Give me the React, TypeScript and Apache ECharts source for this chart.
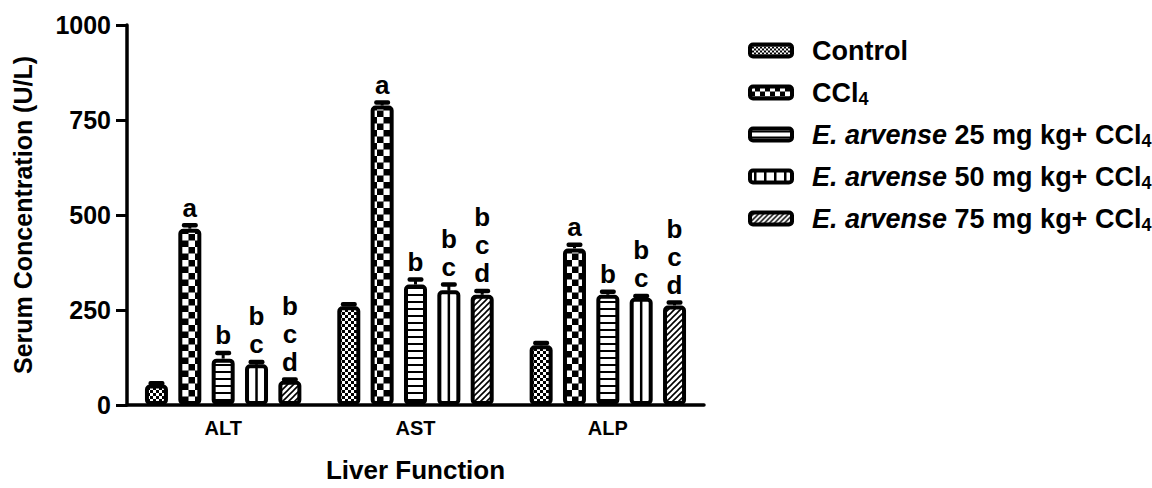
import React, { useEffect, useRef } from "react";
import * as echarts from "echarts";

const categories = ["ALT", "AST", "ALP"];
const seriesNames = ["Control", "CCl4", "E25", "E50", "E75"];

const controlMean = [54, 260, 157];
const controlErr = [5, 7, 8];
const ccl4Mean = [464, 788, 412];
const ccl4Err = [11, 10, 12];
const e25Mean = [122, 317, 290];
const e25Err = [17, 15, 10];
const e50Mean = [107, 302, 282];
const e50Err = [8, 17, 7];
const e75Mean = [64, 290, 262];
const e75Err = [5, 12, 10];

const controlLetters = ["", "", ""];
const ccl4Letters = ["a", "a", "a"];
const e25Letters = ["b", "b", "b"];
const e50Letters = ["b\nc", "b\nc", "b\nc"];
const e75Letters = ["b\nc\nd", "b\nc\nd", "b\nc\nd"];

const yTicks = [0, 250, 500, 750, 1000];

const FONT = "Liberation Sans, Arial, Helvetica, sans-serif";

const svgUrl = (w: number, h: number, inner: string) =>
  "data:image/svg+xml;charset=utf-8," +
  encodeURIComponent(
    `<svg xmlns="http://www.w3.org/2000/svg" width="${w}" height="${h}">${inner}</svg>`
  );

const pat = (w: number, h: number, inner: string) => ({
  image: svgUrl(w, h, inner),
  imageWidth: w,
  imageHeight: h,
  repeat: "repeat",
});

const patterns = [
  pat(6, 6, '<rect width="6" height="6" fill="#fff"/><rect width="3" height="3" fill="#000"/><rect x="3" y="3" width="3" height="3" fill="#000"/>'),
  pat(13, 13, '<rect width="13" height="13" fill="#000"/><rect width="6.5" height="6.5" fill="#fff"/><rect x="6.5" y="6.5" width="6.5" height="6.5" fill="#fff"/>'),
  pat(4, 7, '<rect width="4" height="7" fill="#fff"/><rect width="4" height="2" fill="#000"/>'),
  "#ffffff",
  pat(6, 6, '<rect width="6" height="6" fill="#fff"/><path d="M-1,1 l2,-2 M0,6 l6,-6 M5,7 l2,-2" stroke="#000" stroke-width="1.6"/>'),
];
const legendPatterns = [
  pat(4, 4, '<rect width="4" height="4" fill="#fff"/><rect width="2" height="2" fill="#000"/><rect x="2" y="2" width="2" height="2" fill="#000"/>'),
  pat(10, 10, '<rect width="10" height="10" fill="#000"/><rect width="5" height="5" fill="#fff"/><rect x="5" y="5" width="5" height="5" fill="#fff"/>'),
  pat(4, 6, '<rect width="4" height="6" fill="#fff"/><rect y="2" width="4" height="2" fill="#000"/>'),
  pat(10, 4, '<rect width="10" height="4" fill="#fff"/><rect x="4" width="2.5" height="4" fill="#000"/>'),
  pat(5, 5, '<rect width="5" height="5" fill="#fff"/><path d="M-1,1 l2,-2 M0,5 l5,-5 M4,6 l2,-2" stroke="#000" stroke-width="1.5"/>'),
];

const means = [controlMean, ccl4Mean, e25Mean, e50Mean, e75Mean];
const errs = [controlErr, ccl4Err, e25Err, e50Err, e75Err];
const letters = [controlLetters, ccl4Letters, e25Letters, e50Letters, e75Letters];

const legendLabels = [
  "Control",
  "CCl{sub|4}",
  "{it|E. arvense} 25 mg kg+ CCl{sub|4}",
  "{it|E. arvense} 50 mg kg+ CCl{sub|4}",
  "{it|E. arvense} 75 mg kg+ CCl{sub|4}",
];

const BAR_W = 23;
const BAR_GAP = 0.45;
const SPACING = BAR_W * (1 + BAR_GAP);

export default function App() {
  const ref = useRef<HTMLDivElement>(null);
  useEffect(() => {
    document.body.style.margin = "0";
    const chart = echarts.init(ref.current!, null, { renderer: "svg" });

    const errData: any[] = [];
    const errLetters: string[] = [];
    for (let s = 0; s < 5; s++) {
      for (let c = 0; c < categories.length; c++) {
        errData.push([c, s, means[s][c], errs[s][c]]);
        errLetters.push(letters[s][c]);
      }
    }

    const barSeries = seriesNames.map((name, s) => ({
      name,
      type: "bar",
      barWidth: BAR_W,
      barGap: `${BAR_GAP * 100}%`,
      data: means[s],
      itemStyle: {
        color: patterns[s],
        borderColor: "#000",
        borderWidth: 4,
        borderRadius: 3,
      },
      z: 2,
    }));

    const legends = seriesNames.map((name, i) => ({
      data: [{ name, itemStyle: { color: legendPatterns[i], borderWidth: 4, borderColor: "#000" } }],
      left: 743,
      top: 48 + i * 42 - 16,
      orient: "vertical",
      icon: "roundRect",
      itemWidth: 42,
      itemHeight: 12,
      selectedMode: false,
      formatter: () => legendLabels[i],
      textStyle: {
        color: "#000",
        fontFamily: FONT,
        fontWeight: "bold",
        fontSize: 27,
        padding: [0, 0, 0, 15],
        rich: {
          it: { fontStyle: "italic", fontWeight: "bold", fontSize: 27, fontFamily: FONT, color: "#000" },
          sub: { fontSize: 18, fontWeight: "bold", fontFamily: FONT, color: "#000", padding: [13, 0, 0, 0] },
        },
      },
    }));

    chart.setOption({
      animation: false,
      backgroundColor: "#fff",
      legend: legends,
      grid: { left: 127, top: 25, right: 448, bottom: 75, containLabel: false },
      xAxis: {
        type: "category",
        data: categories,
        name: "Liver Function",
        nameLocation: "middle",
        nameGap: 52,
        nameTextStyle: { color: "#000", fontFamily: FONT, fontWeight: "bold", fontSize: 26 },
        axisLine: { lineStyle: { color: "#000", width: 3.5 } },
        axisTick: { alignWithLabel: true, length: 9, lineStyle: { color: "#000", width: 3 } },
        axisLabel: { color: "#000", fontFamily: FONT, fontWeight: "bold", fontSize: 20, margin: 13 },
      },
      yAxis: {
        type: "value",
        min: 0,
        max: 1000,
        interval: 250,
        name: "Serum Concentration (U/L)",
        nameLocation: "middle",
        nameGap: 92,
        nameTextStyle: { color: "#000", fontFamily: FONT, fontWeight: "bold", fontSize: 25 },
        axisLine: { show: true, lineStyle: { color: "#000", width: 3.5 } },
        axisTick: { show: true, length: 11, lineStyle: { color: "#000", width: 3 } },
        axisLabel: {
          color: "#000",
          fontFamily: FONT,
          fontWeight: "bold",
          fontSize: 25,
          margin: 16,
          formatter: (v: number) => (yTicks.includes(v) ? String(v) : ""),
        },
        splitLine: { show: false },
      },
      series: [
        ...barSeries,
        {
          type: "custom",
          name: "errors",
          z: 5,
          data: errData,
          renderItem: (params: any, api: any) => {
            const c = api.value(0);
            const s = api.value(1);
            const v = api.value(2);
            const e = api.value(3);
            const base = api.coord([c, 0]);
            const top = api.coord([c, v]);
            const et = api.coord([c, v + e]);
            const x = base[0] + (s - 2) * SPACING;
            const children: any[] = [
              {
                type: "line",
                shape: { x1: x, y1: top[1], x2: x, y2: et[1] },
                style: { stroke: "#000", lineWidth: 3 },
              },
              {
                type: "rect",
                shape: { x: x - 8, y: et[1] - 1.5, width: 16, height: 4.5, r: 2 },
                style: { fill: "#000" },
              },
            ];
            if (s === 3) {
              children.push({
                type: "line",
                shape: { x1: x, y1: base[1], x2: x, y2: top[1] },
                style: { stroke: "#000", lineWidth: 2.5 },
              });
            }
            const txt = errLetters[params.dataIndex];
            if (txt) {
              children.push({
                type: "text",
                style: {
                  text: txt,
                  x: x,
                  y: et[1] - 3,
                  align: "center",
                  verticalAlign: "bottom",
                  font: `bold 26px ${FONT}`,
                  lineHeight: 28,
                  fill: "#000",
                },
              });
            }
            return { type: "group", children };
          },
        },
      ],
    });
    return () => chart.dispose();
  }, []);
  return <div ref={ref} style={{ width: 1152, height: 488 }} />;
}
